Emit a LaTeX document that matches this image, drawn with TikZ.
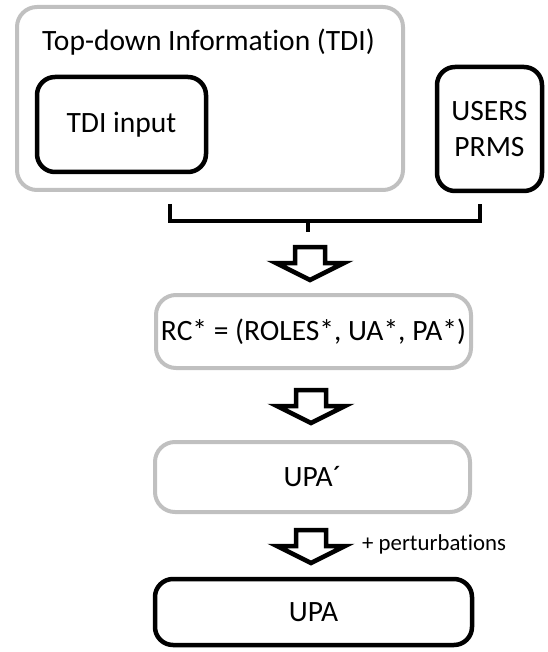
\documentclass[tikz,border=0pt]{standalone}
\usepackage{fontspec}
\setmainfont[Ligatures=NoCommon]{Carlito}
\usepackage{tikz}
\usetikzlibrary{calc,positioning}
\definecolor{boxgray}{RGB}{192,192,192}
\tikzstyle{graybox}=[draw=boxgray,line width=4pt,rounded corners=20pt]
\tikzstyle{blackbox}=[draw=black,line width=4.5pt,rounded corners=18pt]
\tikzstyle{bracket}=[draw=black,line width=4.5pt]
\tikzstyle{blkarrow}=[draw=black,fill=white,line width=4.5pt,line join=miter]
\newcommand*{\bigfont}{\fontsize{29.5}{36}\selectfont}
\newcommand*{\smallfont}{\fontsize{22.8}{26}\selectfont}
% hollow down arrow, #1 = top centre of the shaft
\newcommand*{\downblock}[1]{\draw[blkarrow] (#1) ++(-15,0) -- ++(30,0) -- ++(0,16) -- ++(19,0) -- ++(-34,17) -- ++(-34,-17) -- ++(19,0) -- cycle;}

\begin{document}
\begin{tikzpicture}[x=1pt,y=-1pt,font=\bigfont]
            \useasboundingbox (0,0) rectangle (547,652);
            % top part
            \node[graybox,minimum width=386pt,minimum height=183pt] (tdi) at (210,98.5) {};
            \node[anchor=base west,inner sep=0pt] (tdititle) at (42,51) {Top-down Information (TDI)};
            \node[blackbox,minimum width=169pt,minimum height=95pt] (tdiin) at (121.5,124.5) {TDI input};
            \node[blackbox,minimum width=105pt,minimum height=124pt,align=center] (users) at (489.5,129) {USERS\\PRMS};
            % bracket joining both
            \coordinate (brl) at (170,204);
            \coordinate (brr) at (480,204);
            \coordinate (brm) at (308,221);
            \coordinate (brt) at (308,232);
            \draw[bracket] (brl) |- (brm) -| (brr);
            \draw[bracket] (brm) -- (brt);
            % chain
            \coordinate (arr1) at (310,247);
            \downblock{arr1}
            \node[graybox,minimum width=315pt,minimum height=73pt] (rc) at (313.5,331.5) {RC* = (ROLES*, UA*, PA*)};
            \coordinate (arr2) at (311,390);
            \downblock{arr2}
            \node[graybox,minimum width=315pt,minimum height=70pt] (upap) at (312.5,477) {UPA´};
            \coordinate (arr3) at (311,530);
            \downblock{arr3}
            \node[anchor=base west,inner sep=0pt,font=\smallfont] (pert) at (362,550) {+ perturbations};
            \node[blackbox,minimum width=317pt,minimum height=66pt] (upa) at (313.5,612) {UPA};
        \end{tikzpicture}
\end{document}
